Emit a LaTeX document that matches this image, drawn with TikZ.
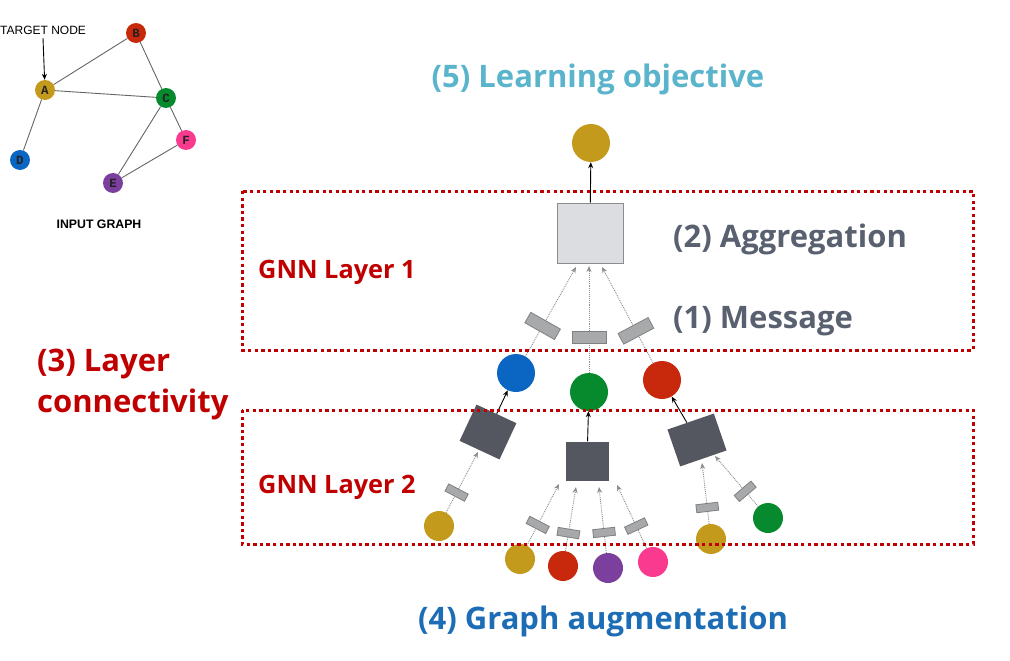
\documentclass[tikz,border=0pt]{standalone}
\usepackage{fontspec}
\setmainfont{Open Sans}
\newfontfamily\arialf{Liberation Sans}
\newfontfamily\monof{Liberation Mono}
\usetikzlibrary{arrows.meta}
\definecolor{cgold}{HTML}{C49A1C}
\definecolor{cred}{HTML}{C8290C}
\definecolor{cgreen}{HTML}{078A2E}
\definecolor{cblue}{HTML}{0A66C2}
\definecolor{cpurple}{HTML}{7B3F9E}
\definecolor{cpink}{HTML}{F93A8E}
\definecolor{cdark}{HTML}{54575F}
\definecolor{clight}{HTML}{DCDDE0}
\definecolor{cmsg}{HTML}{A8A9AB}
\definecolor{cmsgb}{HTML}{7F8082}
\definecolor{cdred}{HTML}{C00000}
\definecolor{cgraytxt}{HTML}{59606F}
\definecolor{cltblue}{HTML}{5AB4CC}
\definecolor{caug}{HTML}{1C6DB5}
\definecolor{cedge}{HTML}{666666}
\definecolor{clabel}{HTML}{222222}
\tikzset{
  gnode/.style={circle, minimum size=20, inner sep=0, fill=#1, text=clabel, font=\monof\bfseries\fontsize{12.5}{12.5}\selectfont},
  gedge/.style={draw=cedge, line width=0.9},
  bigc/.style={circle, minimum size=38, inner sep=0},
  smc/.style={circle, minimum size=30, inner sep=0},
  aggsq/.style={draw=black!45, fill=clight, line width=1, minimum width=66, minimum height=60, inner sep=0},
  dsq/.style={fill=cdark, inner sep=0},
  msgA/.style={sloped, solid, draw=cmsgb, fill=cmsg, line width=0.8, minimum width=12, minimum height=34, inner sep=0},
  msgB/.style={sloped, solid, draw=cmsgb, fill=cmsg, line width=0.8, minimum width=8, minimum height=22, inner sep=0},
  msgline/.style={draw=black!45, densely dotted, line width=0.9, -{Stealth[length=6,width=5]}},
  blk/.style={draw=black, line width=0.9, -{Stealth[length=6,width=5]}},
  redbox/.style={draw=cdred, line width=3, dash pattern=on 3.3 off 3.3},
  bigtxt/.style={inner sep=0, font=\bfseries\fontsize{31}{31}\selectfont},
  gnntxt/.style={inner sep=0, anchor=base west, text=cdred, font=\bfseries\fontsize{25.3}{25.3}\selectfont},
}
\begin{document}
\begin{tikzpicture}[x=1pt,y=-1pt]
\useasboundingbox[fill=white] (0,0) rectangle (1010,661);
% ---- input graph ----
\node[gnode=cgold] (A) at (45,90) {A};
\node[gnode=cred] (B) at (136,33) {B};
\node[gnode=cgreen] (C) at (166,98) {C};
\node[gnode=cblue] (D) at (20,160) {D};
\node[gnode=cpurple] (E) at (113,183) {E};
\node[gnode=cpink] (F) at (186,140) {F};
\draw[gedge] (A)--(B) (A)--(C) (A)--(D) (B)--(C) (C)--(E) (C)--(F) (E)--(F);
\node[inner sep=0, anchor=west, font=\arialf\fontsize{12}{12}\selectfont] (tn) at (0,30) {TARGET NODE};
\coordinate (tnb) at (43,38);
\draw[draw=black, line width=0.9, -{Stealth[length=6,width=5]}] (tnb) -- (A);
\node[inner sep=0, font=\arialf\bfseries\fontsize{12.3}{12.3}\selectfont] (ig) at (99,224) {INPUT GRAPH};
% ---- top ----
\node[bigc, fill=cgold] (top) at (591,143) {};
\node[aggsq] (agg) at (590,233) {};
\draw[blk] (agg) -- (top);
% ---- layer 1 ----
\node[bigc, fill=cblue] (l1a) at (516,373) {};
\node[bigc, fill=cgreen] (l1b) at (589,392) {};
\node[bigc, fill=cred] (l1c) at (662,380) {};
\coordinate (t1a) at (576,267);
\coordinate (t1b) at (589,266);
\coordinate (t1c) at (602,267);
\draw[msgline] (l1a) -- node[pos=0.34, msgA] (ma) {} (t1a);
\draw[msgline] (l1b) -- node[pos=0.33, msgA] (mb) {} (t1b);
\draw[msgline] (l1c) -- node[pos=0.335, msgA] (mc) {} (t1c);
% ---- layer 2 ----
\node[dsq, minimum width=44, minimum height=40, rotate=-25] (s1) at (488,432) {};
\node[dsq, minimum width=43, minimum height=39] (s2) at (587,461) {};
\node[dsq, minimum width=49, minimum height=39, rotate=19] (s3) at (697,440) {};
\draw[blk] (s1) -- (l1a);
\draw[blk] (s2) -- (l1b);
\draw[blk] (s3) -- (l1c);
\node[smc, fill=cgold] (g1) at (439,526) {};
\node[smc, fill=cgold] (m1) at (520,559) {};
\node[smc, fill=cred] (m2) at (563,566) {};
\node[smc, fill=cpurple] (m3) at (608,568) {};
\node[smc, fill=cpink] (m4) at (653,562) {};
\node[smc, fill=cgold] (r1) at (711,539) {};
\node[smc, fill=cgreen] (r2) at (768,518) {};
\coordinate (tg1) at (478,452);
\coordinate (tm1) at (559,484);
\coordinate (tm2) at (576,487);
\coordinate (tm3) at (599,487);
\coordinate (tm4) at (617,485);
\coordinate (tr1) at (702,463);
\coordinate (tr2) at (715,456);
\draw[msgline] (g1) -- node[pos=0.33, msgB] {} (tg1);
\draw[msgline] (m1) -- node[pos=0.335, msgB] {} (tm1);
\draw[msgline] (m2) -- node[pos=0.28, msgB] {} (tm2);
\draw[msgline] (m3) -- node[pos=0.31, msgB] {} (tm3);
\draw[msgline] (m4) -- node[pos=0.35, msgB] {} (tm4);
\draw[msgline] (r1) -- node[pos=0.27, msgB] {} (tr1);
\draw[msgline] (r2) -- node[pos=0.30, msgB] {} (tr2);
% ---- boxes ----
\draw[redbox] (242,191) rectangle (973,350);
\draw[redbox] (242,410) rectangle (973,544);
% ---- texts ----
\node[bigtxt, text=cltblue, anchor=base] (t5) at (598,88) {(5) Learning objective};
\node[bigtxt, text=cgraytxt, anchor=base west] (t2) at (673,247) {(2) Aggregation};
\node[bigtxt, text=cgraytxt, anchor=base west] (t1) at (673,328) {(1) Message};
\node[gnntxt] (gl1) at (258,278) {GNN Layer 1};
\node[gnntxt] (gl2) at (258,493) {GNN Layer 2};
\node[bigtxt, text=cdred, anchor=base west] (t3a) at (37,371) {(3) Layer};
\node[bigtxt, text=cdred, anchor=base west] (t3b) at (37,412) {connectivity};
\node[bigtxt, text=caug, anchor=base] (t4) at (603,629) {(4) Graph augmentation};
\end{tikzpicture}
\end{document}
